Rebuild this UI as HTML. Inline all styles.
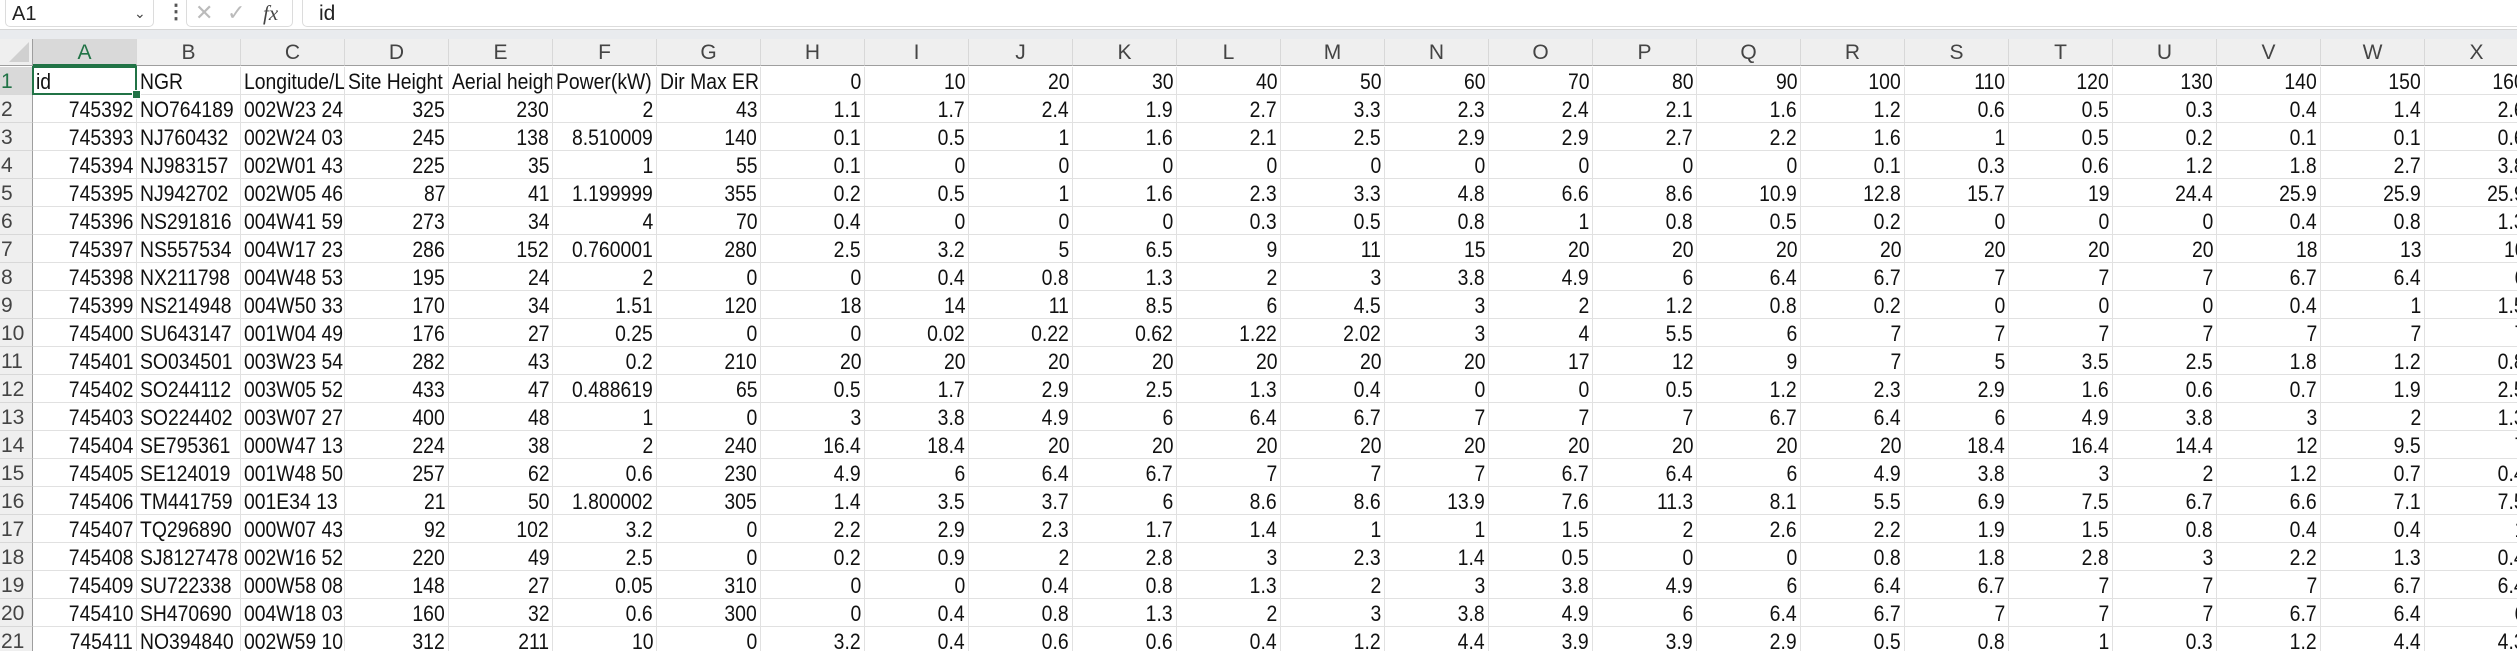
<!DOCTYPE html>
<html><head><meta charset="utf-8">
<style>
html,body{margin:0;padding:0;width:2517px;height:651px;overflow:hidden;background:#fff;font-family:"Liberation Sans",sans-serif;}
#top{position:absolute;left:0;top:0;width:2517px;height:29px;background:#fff;}
#band{position:absolute;left:0;top:29px;width:2517px;height:10px;background:#e9ebee;border-top:1px solid #d6d6d6;box-sizing:border-box;}
.box{position:absolute;top:0;height:27px;border:1px solid #dcdcdc;border-top:none;border-radius:0 0 5px 5px;box-sizing:border-box;background:#fff;}
#grid{position:absolute;left:0;top:39px;width:2517px;height:612px;overflow:hidden;}
.ch{position:absolute;top:0;height:27px;background:#efefef;border-right:1px solid #d8d8d8;border-bottom:1px solid #9e9e9e;box-sizing:border-box;text-align:center;font-size:21px;line-height:28px;color:#444;}
.rh{position:absolute;left:0;width:33px;height:28px;background:#efefef;border-bottom:1px solid #d8d8d8;border-right:1px solid #9e9e9e;box-sizing:border-box;font-size:21px;line-height:29px;color:#444;padding-left:1px;}
.c{position:absolute;height:28px;border-right:1px solid #e1e1e1;border-bottom:1px solid #e1e1e1;box-sizing:border-box;font-size:22px;line-height:29px;color:#111;overflow:hidden;white-space:nowrap;padding:0 3px;}
.c span{display:inline-block;transform:scaleX(0.88);transform-origin:left center;}
.r{text-align:right;}
.r span{transform-origin:right center;}
</style></head><body>
<div id="top">
 <div class="box" style="left:5px;width:149px;">
  <span style="position:absolute;left:6px;top:1px;font-size:20px;line-height:26px;color:#222;">A1</span>
  <span style="position:absolute;left:128px;top:0;font-size:14px;line-height:26px;color:#444;">&#8964;</span>
 </div>
 <span style="position:absolute;left:166px;top:0;font-size:20px;line-height:24px;color:#555;font-weight:bold;">&#8942;</span>
 <div class="box" style="left:186px;width:107px;">
  <span style="position:absolute;left:8px;top:0;font-size:22px;line-height:26px;color:#bbb;">&#10005;</span>
  <span style="position:absolute;left:40px;top:0;font-size:22px;line-height:26px;color:#bbb;">&#10003;</span>
  <span style="position:absolute;left:76px;top:0;font-size:21px;line-height:26px;color:#444;font-style:italic;font-family:'Liberation Serif',serif;">fx</span>
 </div>
 <div class="box" style="left:302px;width:2230px;">
  <span style="position:absolute;left:16px;top:0;font-size:21px;line-height:27px;color:#222;">id</span>
 </div>
</div>
<div id="band"></div>
<div id="grid"></div>
<script>
const colLetters = ["A","B","C","D","E","F","G","H","I","J","K","L","M","N","O","P","Q","R","S","T","U","V","W","X"];
const headerRow = ["id","NGR","Longitude/Latitude","Site Height","Aerial height","Power(kW)","Dir Max ERP","0","10","20","30","40","50","60","70","80","90","100","110","120","130","140","150","160"];
const ids = [745392,745393,745394,745395,745396,745397,745398,745399,745400,745401,745402,745403,745404,745405,745406,745407,745408,745409,745410,745411];
const ngr = ["NO764189","NJ760432","NJ983157","NJ942702","NS291816","NS557534","NX211798","NS214948","SU643147","SO034501","SO244112","SO224402","SE795361","SE124019","TM441759","TQ296890","SJ8127478","SU722338","SH470690","NO394840"];
const lonlat = ["002W23 24","002W24 03","002W01 43","002W05 46","004W41 59","004W17 23","004W48 53","004W50 33","001W04 49","003W23 54","003W05 52","003W07 27","000W47 13","001W48 50","001E34 13","000W07 43","002W16 52","000W58 08","004W18 03","002W59 10"];
const siteHeight = [325,245,225,87,273,286,195,170,176,282,433,400,224,257,21,92,220,148,160,312];
const aerialHeight = [230,138,35,41,34,152,24,34,27,43,47,48,38,62,50,102,49,27,32,211];
const power = ["2","8.510009","1","1.199999","4","0.760001","2","1.51","0.25","0.2","0.488619","1","2","0.6","1.800002","3.2","2.5","0.05","0.6","10"];
const dirMax = [43,140,55,355,70,280,0,120,0,210,65,0,240,230,305,0,0,310,300,0];
const erp = [
 [1.1,1.7,2.4,1.9,2.7,3.3,2.3,2.4,2.1,1.6,1.2,0.6,0.5,0.3,0.4,1.4,2.6],
 [0.1,0.5,1,1.6,2.1,2.5,2.9,2.9,2.7,2.2,1.6,1,0.5,0.2,0.1,0.1,0.6],
 [0.1,0,0,0,0,0,0,0,0,0,0.1,0.3,0.6,1.2,1.8,2.7,3.8],
 [0.2,0.5,1,1.6,2.3,3.3,4.8,6.6,8.6,10.9,12.8,15.7,19,24.4,25.9,25.9,25.9],
 [0.4,0,0,0,0.3,0.5,0.8,1,0.8,0.5,0.2,0,0,0,0.4,0.8,1.3],
 [2.5,3.2,5,6.5,9,11,15,20,20,20,20,20,20,20,18,13,10],
 [0,0.4,0.8,1.3,2,3,3.8,4.9,6,6.4,6.7,7,7,7,6.7,6.4,6],
 [18,14,11,8.5,6,4.5,3,2,1.2,0.8,0.2,0,0,0,0.4,1,1.5],
 [0,0.02,0.22,0.62,1.22,2.02,3,4,5.5,6,7,7,7,7,7,7,7],
 [20,20,20,20,20,20,20,17,12,9,7,5,3.5,2.5,1.8,1.2,0.8],
 [0.5,1.7,2.9,2.5,1.3,0.4,0,0,0.5,1.2,2.3,2.9,1.6,0.6,0.7,1.9,2.5],
 [3,3.8,4.9,6,6.4,6.7,7,7,7,6.7,6.4,6,4.9,3.8,3,2,1.3],
 [16.4,18.4,20,20,20,20,20,20,20,20,20,18.4,16.4,14.4,12,9.5,7],
 [4.9,6,6.4,6.7,7,7,7,6.7,6.4,6,4.9,3.8,3,2,1.2,0.7,0.4],
 [1.4,3.5,3.7,6,8.6,8.6,13.9,7.6,11.3,8.1,5.5,6.9,7.5,6.7,6.6,7.1,7.5],
 [2.2,2.9,2.3,1.7,1.4,1,1,1.5,2,2.6,2.2,1.9,1.5,0.8,0.4,0.4,1],
 [0.2,0.9,2,2.8,3,2.3,1.4,0.5,0,0,0.8,1.8,2.8,3,2.2,1.3,0.4],
 [0,0,0.4,0.8,1.3,2,3,3.8,4.9,6,6.4,6.7,7,7,7,6.7,6.4],
 [0,0.4,0.8,1.3,2,3,3.8,4.9,6,6.4,6.7,7,7,7,6.7,6.4,6],
 [3.2,0.4,0.6,0.6,0.4,1.2,4.4,3.9,3.9,2.9,0.5,0.8,1,0.3,1.2,4.4,4.3]
];

const grid = document.getElementById('grid');
const X0 = 33, CW = 104, Y0 = 28, RH = 28;
function colX(i){ return X0 + i*CW; }
function rowY(i){ return Y0 + i*RH; }

const corner = document.createElement('div');
corner.className = 'ch';
corner.style.cssText = 'left:0;width:33px;border-right:1px solid #9e9e9e;';
corner.innerHTML = '<div style="position:absolute;right:3px;bottom:3px;width:0;height:0;border-left:20px solid transparent;border-bottom:20px solid #d0d0d0;"></div>';


grid.appendChild(corner);

colLetters.forEach((L, i) => {
  const d = document.createElement('div');
  d.className = 'ch';
  d.style.left = colX(i) + 'px';
  d.style.width = CW + 'px';
  d.textContent = L;
  if (i === 0) { d.style.background = '#d9d9d9'; d.style.color = '#217346'; d.style.borderBottom = '2px solid #217346'; }
  
  
  grid.appendChild(d);
});

for (let r = 0; r < 21; r++) {
  const h = document.createElement('div');
  h.className = 'rh';
  h.style.top = rowY(r) + 'px';
  h.textContent = r + 1;
  if (r === 0) { h.style.background = '#d9d9d9'; h.style.color = '#217346'; }
  
  
  grid.appendChild(h);
}

function addCell(r, c, text, right) {
  const d = document.createElement('div');
  d.className = 'c' + (right ? ' r' : '');
  d.style.left = colX(c) + 'px';
  d.style.top = rowY(r) + 'px';
  d.style.width = CW + 'px';
  const s = document.createElement('span');
  s.textContent = text;
  d.appendChild(s);
  
  
  grid.appendChild(d);
}

headerRow.forEach((t, c) => addCell(0, c, t, c >= 7));
for (let i = 0; i < ids.length; i++) {
  const r = i + 1;
  addCell(r, 0, ids[i], true);
  addCell(r, 1, ngr[i], false);
  addCell(r, 2, lonlat[i], false);
  addCell(r, 3, siteHeight[i], true);
  addCell(r, 4, aerialHeight[i], true);
  addCell(r, 5, power[i], true);
  addCell(r, 6, dirMax[i], true);
  erp[i].forEach((v, k) => addCell(r, 7 + k, v, true));
}

const sel = document.createElement('div');
sel.style.cssText = 'position:absolute;left:' + (colX(0)-1) + 'px;top:' + (rowY(0)-1) + 'px;width:' + (CW+1) + 'px;height:' + (RH+1) + 'px;border:2px solid #217346;box-sizing:border-box;pointer-events:none;';


grid.appendChild(sel);
const fh = document.createElement('div');
fh.style.cssText = 'position:absolute;left:' + (colX(1)-5) + 'px;top:' + (rowY(1)-5) + 'px;width:7px;height:7px;background:#217346;border:1px solid #fff;';


grid.appendChild(fh);
</script>
</body></html>
